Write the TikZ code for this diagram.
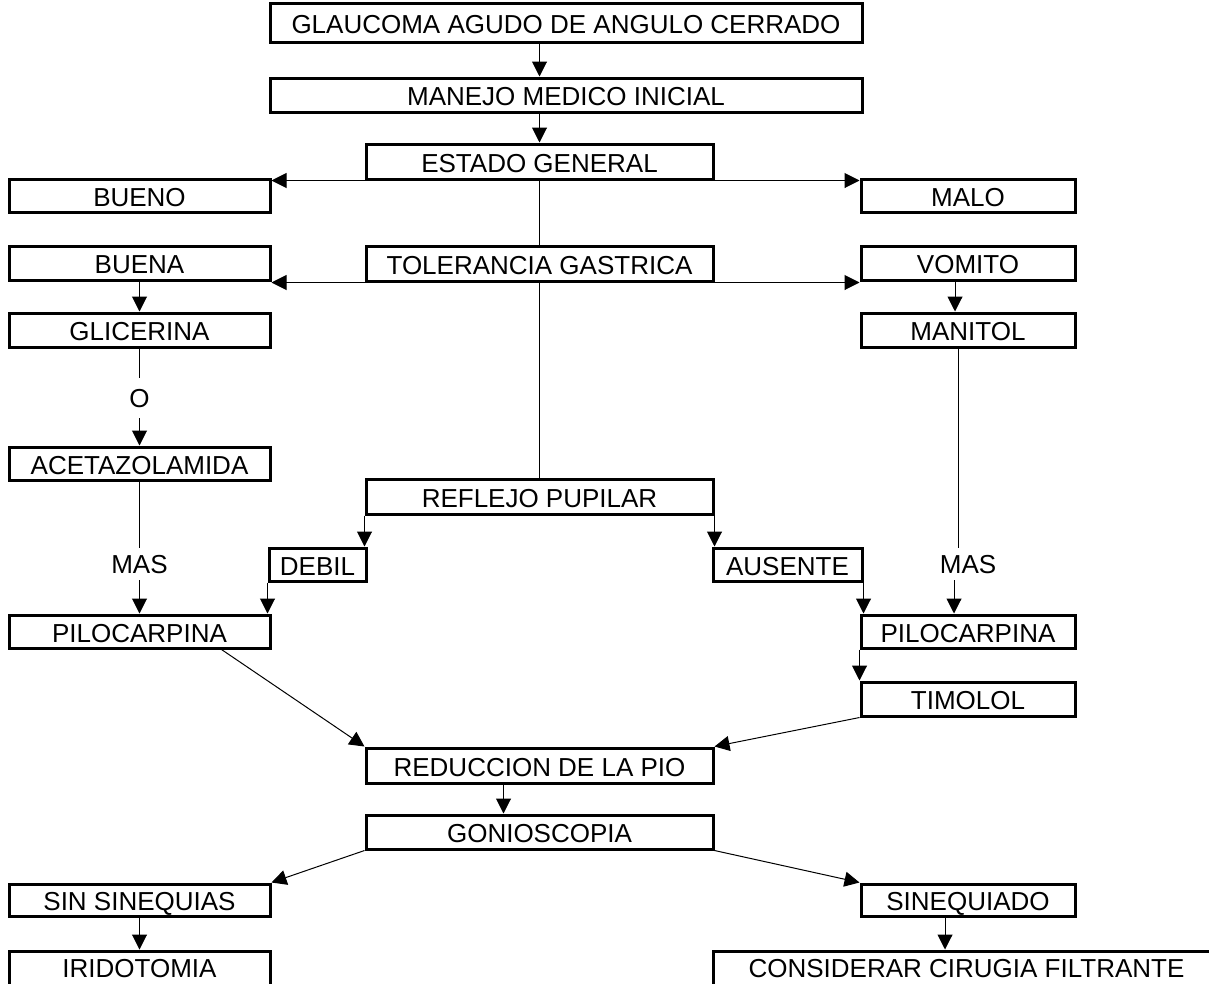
\documentclass[tikz,border=0pt]{standalone}
\usepackage{fontspec}
\setmainfont{Liberation Sans}
\usetikzlibrary{arrows.meta}
\begin{document}
\begin{tikzpicture}[>={Triangle[length=15pt,width=15pt]},x=1pt,y=-1pt,
	hop/.style={draw,line width=3pt,inner sep=0pt,text height=21pt,text depth=0pt,font=\fontsize{26}{30}\selectfont},
	chu/.style={inner xsep=3pt,inner ysep=7pt,text height=18.5pt,text depth=0pt,font=\fontsize{26}{30}\selectfont},
	noi/.style={line width=1pt}]
	\useasboundingbox (0,0) rectangle (1209,983);
	% cot giua
	\node[hop,minimum width=592pt,minimum height=39pt] (glaucoma) at (566,23) {GLAUCOMA AGUDO DE ANGULO CERRADO};
	\node[hop,minimum width=592pt,minimum height=34pt] (manejo) at (566,95) {MANEJO MEDICO INICIAL};
	\node[hop,minimum width=347pt,minimum height=35pt] (estado) at (539.5,161.5) {ESTADO GENERAL};
	\node[hop,minimum width=347pt,minimum height=35pt] (toler) at (539.5,263.5) {TOLERANCIA GASTRICA};
	\node[hop,minimum width=347pt,minimum height=35pt] (reflejo) at (539.5,496.5) {REFLEJO PUPILAR};
	\node[hop,minimum width=97pt,minimum height=33pt] (debil) at (317.5,564.5) {DEBIL};
	\node[hop,minimum width=149pt,minimum height=33pt] (ausente) at (787.5,564.5) {AUSENTE};
	\node[hop,minimum width=347pt,minimum height=35pt] (reduc) at (539.5,765.5) {REDUCCION DE LA PIO};
	\node[hop,minimum width=347pt,minimum height=34pt] (gonio) at (539.5,832) {GONIOSCOPIA};
	% cot trai
	\node[hop,minimum width=261pt,minimum height=33pt] (bueno) at (139.5,195.5) {BUENO};
	\node[hop,minimum width=261pt,minimum height=34pt] (buena) at (139.5,263) {BUENA};
	\node[hop,minimum width=261pt,minimum height=34pt] (glic) at (139.5,330) {GLICERINA};
	\node[chu,inner ysep=11pt] (olbl) at (139.5,398) {O};
	\node[hop,minimum width=261pt,minimum height=33pt] (acet) at (139.5,463.5) {ACETAZOLAMIDA};
	\node[chu] (masl) at (139.5,564) {MAS};
	\node[hop,minimum width=261pt,minimum height=33pt] (pilol) at (139.5,631.5) {PILOCARPINA};
	\node[hop,minimum width=261pt,minimum height=32pt] (sin) at (139.5,900) {SIN SINEQUIAS};
	\node[hop,minimum width=261pt,minimum height=38pt,text height=14pt] (irid) at (139.5,970) {IRIDOTOMIA};
	% cot phai
	\node[hop,minimum width=214pt,minimum height=33pt] (malo) at (968,195.5) {MALO};
	\node[hop,minimum width=214pt,minimum height=34pt] (vomito) at (968,263) {VOMITO};
	\node[hop,minimum width=214pt,minimum height=34pt] (manitol) at (968,330) {MANITOL};
	\node[chu] (masr) at (968,564) {MAS};
	\node[hop,minimum width=214pt,minimum height=33pt] (pilor) at (968,631.5) {PILOCARPINA};
	\node[hop,minimum width=214pt,minimum height=34pt] (timolol) at (968,699) {TIMOLOL};
	\node[hop,minimum width=214pt,minimum height=32pt] (sineq) at (968,900) {SINEQUIADO};
	\node[hop,minimum width=507pt,minimum height=38pt,text height=14pt] (cons) at (966.5,970) {CONSIDERAR CIRUGIA FILTRANTE};
	% mui ten
	\draw[noi,->] (glaucoma.south -| estado) -- (manejo.north -| estado);
	\draw[noi,->] (manejo.south -| estado) -- (estado.north);
	\draw[noi,->] (estado.south west) -- (estado.south west -| bueno.east);
	\draw[noi,->] (estado.south east) -- (estado.south east -| malo.west);
	\draw[noi] (estado.south) -- (toler.north);
	\draw[noi] (toler.south) -- (reflejo.north);
	\draw[noi,->] (toler.south west) -- (toler.south west -| buena.east);
	\draw[noi,->] (toler.south east) -- (toler.south east -| vomito.west);
	\draw[noi,->] (buena) -- (glic);
	\draw[noi,->] ([xshift=-13pt]vomito.south) -- ([xshift=-13pt]manitol.north);
	\draw[noi] (glic) -- (olbl);
	\draw[noi,->] (olbl) -- (acet);
	\draw[noi] (acet) -- (masl);
	\draw[noi,->] (masl) -- (pilol);
	\draw[noi] ([xshift=-10pt]manitol.south) -- ([xshift=-10pt]masr.north);
	\draw[noi,->] ([xshift=-14pt]masr.south) -- ([xshift=-14pt]pilor.north);
	\draw[noi,->] (reflejo.south west) -- (reflejo.south west |- debil.north);
	\draw[noi,->] (reflejo.south east) -- (reflejo.south east |- ausente.north);
	\draw[noi,->] (debil.south west) -- (debil.south west |- pilol.north);
	\draw[noi,->] (ausente.south east) -- (ausente.south east |- pilor.north);
	\draw[noi,->] (pilor.south west) -- (pilor.south west |- timolol.north);
	\draw[noi,->] ([xshift=-50pt]pilol.south east) -- (reduc.north west);
	\draw[noi,->] (timolol.south west) -- (reduc.north east);
	\draw[noi,->] ([xshift=-36pt]reduc.south) -- ([xshift=-36pt]gonio.north);
	\draw[noi,->] (gonio.south west) -- (sin.north east);
	\draw[noi,->] (gonio.south east) -- (sineq.north west);
	\draw[noi,->] (sin) -- (irid);
	\coordinate (c1) at ([xshift=-23pt]sineq.south);
	\draw[noi,->] (c1) -- (c1 |- cons.north);
\end{tikzpicture}
\end{document}
